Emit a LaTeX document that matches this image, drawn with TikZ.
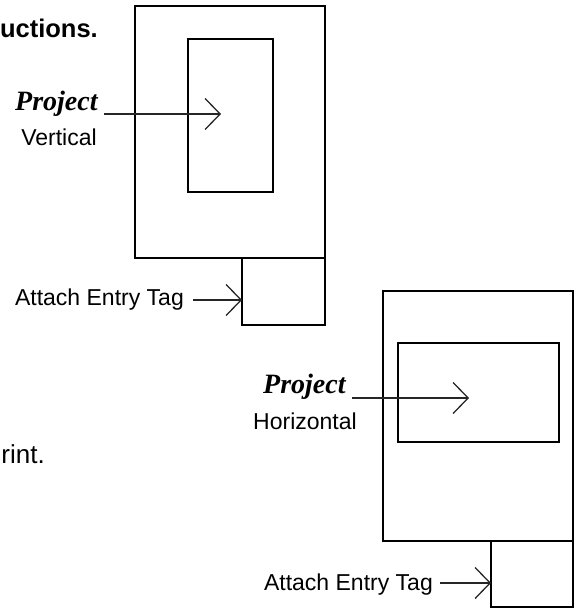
\documentclass[tikz,border=0pt]{standalone}
\usepackage{fontspec}
\setmainfont{Liberation Sans}
\newfontfamily\projfont{Liberation Serif}
\usetikzlibrary{arrows.meta}
\begin{document}
\begin{tikzpicture}[x=1pt,y=-1pt,
  box/.style={draw=black, line width=2pt, inner sep=0pt, outer sep=0pt},
  arr/.style={draw=black!85, line width=1.3pt, -{Straight Barb[length=15pt,width=31pt]}},
  lbl/.style={inner sep=0pt, font=\fontsize{23}{27}\selectfont},
  proj/.style={inner sep=0pt, font=\projfont\bfseries\itshape\fontsize{28}{32}\selectfont}]
\useasboundingbox (0,0) rectangle (577,609);
% fragments of surrounding text
\node[inner sep=0pt, anchor=base east, font=\fontsize{25.5}{30}\selectfont\bfseries] (frag1) at (98,38) {uctions.};
\node[inner sep=0pt, anchor=base east, font=\fontsize{26}{30}\selectfont] (frag2) at (45,463) {rint.};
% vertical layout
\node[box, minimum width=190pt, minimum height=252pt] (outerV) at (230,132) {};
\node[box, minimum width=85pt, minimum height=153pt] (innerV) at (230.5,115.5) {};
\node[box, minimum width=83pt, minimum height=67pt] (tagV) at (283.5,291.5) {};
\node[proj, anchor=base west] (projV) at (15,111) {Project};
\node[lbl] (vert) at (59,137) {Vertical};
\coordinate (tipV) at (221,114);
\draw[arr] (projV.base east) ++(6,3) -- (tipV);
\node[lbl, anchor=base east] (attV) at (184,305) {Attach Entry Tag};
\coordinate (inV) at (242,300);
\draw[arr] (attV.base east) ++(9,-5) -- (inV);
% horizontal layout
\node[box, minimum width=190pt, minimum height=250pt] (outerH) at (478,416) {};
\node[box, minimum width=161pt, minimum height=99pt] (innerH) at (478.5,392.5) {};
\node[box, minimum width=82pt, minimum height=66pt] (tagH) at (532,574) {};
\node[proj, anchor=base west] (projH) at (263,393) {Project};
\node[lbl] (horiz) at (305,421) {Horizontal};
\coordinate (tipH) at (469,398);
\draw[arr] (projH.base east) ++(6,5) -- (tipH);
\node[lbl, anchor=base east] (attH) at (433,590) {Attach Entry Tag};
\coordinate (inH) at (491,583);
\draw[arr] (attH.base east) ++(7,-7) -- (inH);
\end{tikzpicture}
\end{document}
